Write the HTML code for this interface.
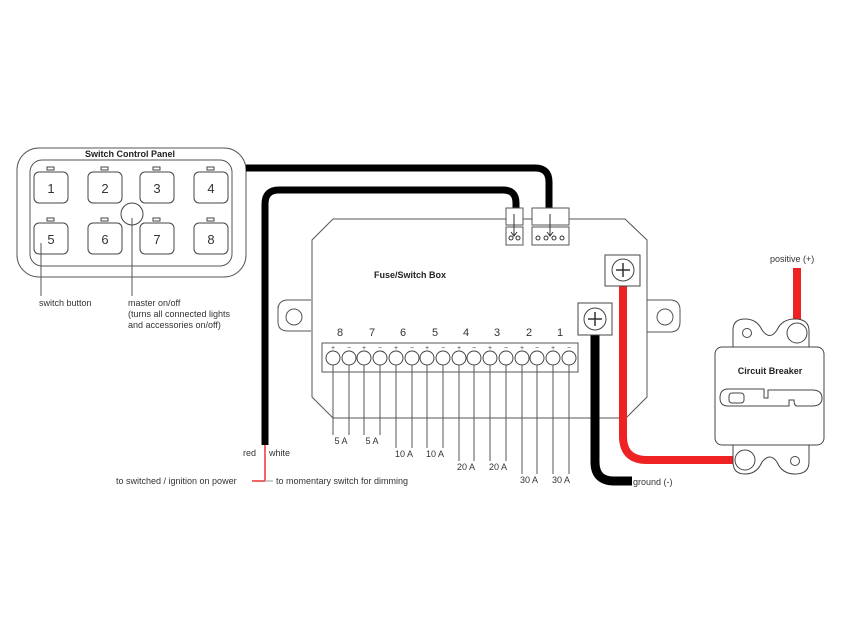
<!DOCTYPE html>
<html><head><style>
html,body{margin:0;padding:0;background:#fff;}
svg{display:block;font-family:"Liberation Sans",Arial,sans-serif;}
</style></head><body>
<svg width="847" height="635" viewBox="0 0 847 635" xmlns="http://www.w3.org/2000/svg">
<rect width="847" height="635" fill="#fff"/>
<g fill="none" stroke="#555" stroke-width="1">
<!-- panel -->
<rect x="17" y="148" width="229" height="129" rx="22"/>
<rect x="30" y="160" width="202" height="106" rx="12"/>
</g>
<text x="130" y="157" font-size="9" font-weight="bold" text-anchor="middle" fill="#222">Switch Control Panel</text>
<g fill="#fff" stroke="#444" stroke-width="1">
<rect x="34" y="172" width="34" height="31" rx="5"/><rect x="88" y="172" width="34" height="31" rx="5"/>
<rect x="140" y="172" width="34" height="31" rx="5"/><rect x="194" y="172" width="34" height="31" rx="5"/>
<rect x="34" y="223" width="34" height="31" rx="5"/><rect x="88" y="223" width="34" height="31" rx="5"/>
<rect x="140" y="223" width="34" height="31" rx="5"/><rect x="194" y="223" width="34" height="31" rx="5"/>
<rect x="47" y="167" width="7" height="3"/><rect x="101" y="167" width="7" height="3"/><rect x="153" y="167" width="7" height="3"/><rect x="207" y="167" width="7" height="3"/>
<rect x="47" y="218" width="7" height="3"/><rect x="101" y="218" width="7" height="3"/><rect x="153" y="218" width="7" height="3"/><rect x="207" y="218" width="7" height="3"/>
<circle cx="132" cy="214" r="11"/>
</g>
<g font-size="13" fill="#333" text-anchor="middle">
<text x="51" y="193">1</text><text x="105" y="193">2</text><text x="157" y="193">3</text><text x="211" y="193">4</text>
<text x="51" y="244">5</text><text x="105" y="244">6</text><text x="157" y="244">7</text><text x="211" y="244">8</text>
</g>
<g stroke="#555" stroke-width="1"><line x1="41" y1="243" x2="41" y2="296"/><line x1="132" y1="218" x2="132" y2="296"/></g>
<g font-size="9" fill="#333">
<text x="39" y="306">switch button</text>
<text x="128" y="306">master on/off</text>
<text x="128" y="317">(turns all connected lights</text>
<text x="128" y="328">and accessories on/off)</text>
</g>
<!-- wires to connectors -->
<g fill="none" stroke="#000" stroke-width="7">
<path d="M246 168 H535 Q549 168 549 182 V208"/>
<path d="M265 445 V204 Q265 190 279 190 H503 Q516 190 516 203 V208"/>
</g>
<!-- red/white -->
<line x1="265" y1="445" x2="265" y2="481" stroke="#e33" stroke-width="1.5"/>
<line x1="252" y1="481" x2="265" y2="481" stroke="#e33" stroke-width="1.5"/>
<line x1="265" y1="481" x2="273" y2="481" stroke="#bbb" stroke-width="1.5"/>
<g font-size="9" fill="#333">
<text x="243" y="456">red</text><text x="269" y="456">white</text>
<text x="116" y="484">to switched / ignition on power</text>
<text x="276" y="484">to momentary switch for dimming</text>
</g>
<!-- fuse box -->
<g fill="#fff" stroke="#555" stroke-width="1">
<path d="M311 316 H288 Q278 316 278 306 V306 M278 306" fill="none"/>
<path d="M311 300 H288 Q278 300 278 310 V322 Q278 331 288 331 H311"/>
<path d="M647 300 H670 Q680 300 680 310 V322 Q680 332 670 332 H647"/>
<circle cx="294" cy="317" r="8"/><circle cx="665" cy="317" r="8"/>
<path d="M333 219 H625 L647 240 V397 L626 418 H333 L312 397 V240 Z"/>
<rect x="506" y="208" width="17" height="17"/><rect x="506" y="227" width="17" height="18"/>
<rect x="532" y="208" width="37" height="17"/><rect x="532" y="227" width="37" height="18"/>
</g>
<line x1="500" y1="219" x2="506" y2="219" stroke="#555"/><line x1="523" y1="219" x2="532" y2="219" stroke="#555"/>
<g fill="none" stroke="#333" stroke-width="1">
<line x1="514" y1="214" x2="514" y2="235"/><path d="M511 232 L514 236 L517 232"/>
<line x1="550" y1="214" x2="550" y2="235"/><path d="M547 232 L550 236 L553 232"/>
<circle cx="511" cy="238" r="2"/><circle cx="518" cy="238" r="2"/>
<circle cx="538" cy="238" r="2"/><circle cx="546" cy="238" r="2"/><circle cx="554" cy="238" r="2"/><circle cx="562" cy="238" r="2"/>
</g>
<text x="374" y="278" font-size="9" font-weight="bold" fill="#222">Fuse/Switch Box</text>
<rect x="322" y="343" width="256" height="29" fill="#fff" stroke="#555"/>
<g font-size="11" fill="#333" text-anchor="middle">
<text x="340" y="336">8</text><text x="372" y="336">7</text><text x="403" y="336">6</text><text x="435" y="336">5</text>
<text x="466" y="336">4</text><text x="497" y="336">3</text><text x="529" y="336">2</text><text x="560" y="336">1</text>
</g>
<g id="terms" fill="#fff" stroke="#444" stroke-width="1">
<circle cx="333" cy="358" r="7"/><circle cx="349" cy="358" r="7"/><circle cx="364" cy="358" r="7"/><circle cx="380" cy="358" r="7"/>
<circle cx="396" cy="358" r="7"/><circle cx="412" cy="358" r="7"/><circle cx="427" cy="358" r="7"/><circle cx="443" cy="358" r="7"/>
<circle cx="459" cy="358" r="7"/><circle cx="474" cy="358" r="7"/><circle cx="490" cy="358" r="7"/><circle cx="506" cy="358" r="7"/>
<circle cx="522" cy="358" r="7"/><circle cx="537" cy="358" r="7"/><circle cx="553" cy="358" r="7"/><circle cx="569" cy="358" r="7"/>
</g>
<g font-size="7" fill="#444" text-anchor="middle">
<text x="333" y="350">+</text><text x="349" y="350">−</text><text x="364" y="350">+</text><text x="380" y="350">−</text>
<text x="396" y="350">+</text><text x="412" y="350">−</text><text x="427" y="350">+</text><text x="443" y="350">−</text>
<text x="459" y="350">+</text><text x="474" y="350">−</text><text x="490" y="350">+</text><text x="506" y="350">−</text>
<text x="522" y="350">+</text><text x="537" y="350">−</text><text x="553" y="350">+</text><text x="569" y="350">−</text>
</g>
<g stroke="#555" stroke-width="1">
<line x1="333" y1="365" x2="333" y2="435"/><line x1="349" y1="365" x2="349" y2="435"/>
<line x1="364" y1="365" x2="364" y2="435"/><line x1="380" y1="365" x2="380" y2="435"/>
<line x1="396" y1="365" x2="396" y2="448"/><line x1="412" y1="365" x2="412" y2="448"/>
<line x1="427" y1="365" x2="427" y2="448"/><line x1="443" y1="365" x2="443" y2="448"/>
<line x1="459" y1="365" x2="459" y2="461"/><line x1="474" y1="365" x2="474" y2="461"/>
<line x1="490" y1="365" x2="490" y2="461"/><line x1="506" y1="365" x2="506" y2="461"/>
<line x1="522" y1="365" x2="522" y2="474"/><line x1="537" y1="365" x2="537" y2="474"/>
<line x1="553" y1="365" x2="553" y2="474"/><line x1="569" y1="365" x2="569" y2="474"/>
</g>
<g font-size="9" fill="#333" text-anchor="middle">
<text x="341" y="444">5 A</text><text x="372" y="444">5 A</text>
<text x="404" y="457">10 A</text><text x="435" y="457">10 A</text>
<text x="466" y="470">20 A</text><text x="498" y="470">20 A</text>
<text x="529" y="483">30 A</text><text x="561" y="483">30 A</text>
</g>
<!-- power wires -->
<path d="M595 325 V462 Q595 481 614 481 H632" fill="none" stroke="#000" stroke-width="9"/>
<path d="M623 280 V436 Q623 460 647 460 H745" fill="none" stroke="#e22" stroke-width="8"/>
<line x1="797" y1="268" x2="797" y2="330" stroke="#e22" stroke-width="8"/>
<!-- terminals -->
<g fill="#fff" stroke="#444" stroke-width="1">
<rect x="605" y="255" width="35" height="31"/>
<circle cx="623" cy="270" r="11"/>
<rect x="578" y="303" width="34" height="32"/>
<circle cx="595" cy="319" r="11"/>
</g>
<g stroke="#333" stroke-width="1.5"><line x1="623" y1="263" x2="623" y2="277"/><line x1="616" y1="270" x2="630" y2="270"/>
<line x1="595" y1="312" x2="595" y2="326"/><line x1="588" y1="319" x2="602" y2="319"/></g>
<text x="633" y="485" font-size="9" fill="#333">ground (-)</text>
<text x="770" y="262" font-size="9" fill="#333">positive (+)</text>
<!-- circuit breaker -->
<g fill="#fff" stroke="#444" stroke-width="1">
<path d="M733 347 V330 Q733 319 745 319 Q757 319 762 330 Q770 341 777 330 Q782 319 795 319 Q809 319 809 331 V347 Z"/>
<path d="M733 445 V462 Q733 474 745 474 Q757 474 762 462 Q770 452 777 462 Q782 474 795 474 Q809 474 809 462 V445 Z"/>
<rect x="715" y="347" width="109" height="98" rx="7"/>
<circle cx="747" cy="333" r="4.5"/><circle cx="795" cy="461" r="4.5"/>
<circle cx="797" cy="333" r="10"/><circle cx="745" cy="460" r="10"/>
<path d="M728 389 H764 V398 H768 V390 H812 Q822 390 822 398 Q822 406 812 406 H797 Q794 406 794 400 H789 V406 H728 Q720 406 720 398 Q720 389 728 389 Z"/>
<rect x="729" y="393" width="15" height="10" rx="3"/>
</g>
<text x="770" y="374" font-size="9" font-weight="bold" text-anchor="middle" fill="#222">Circuit Breaker</text>
</svg>
</body></html>
